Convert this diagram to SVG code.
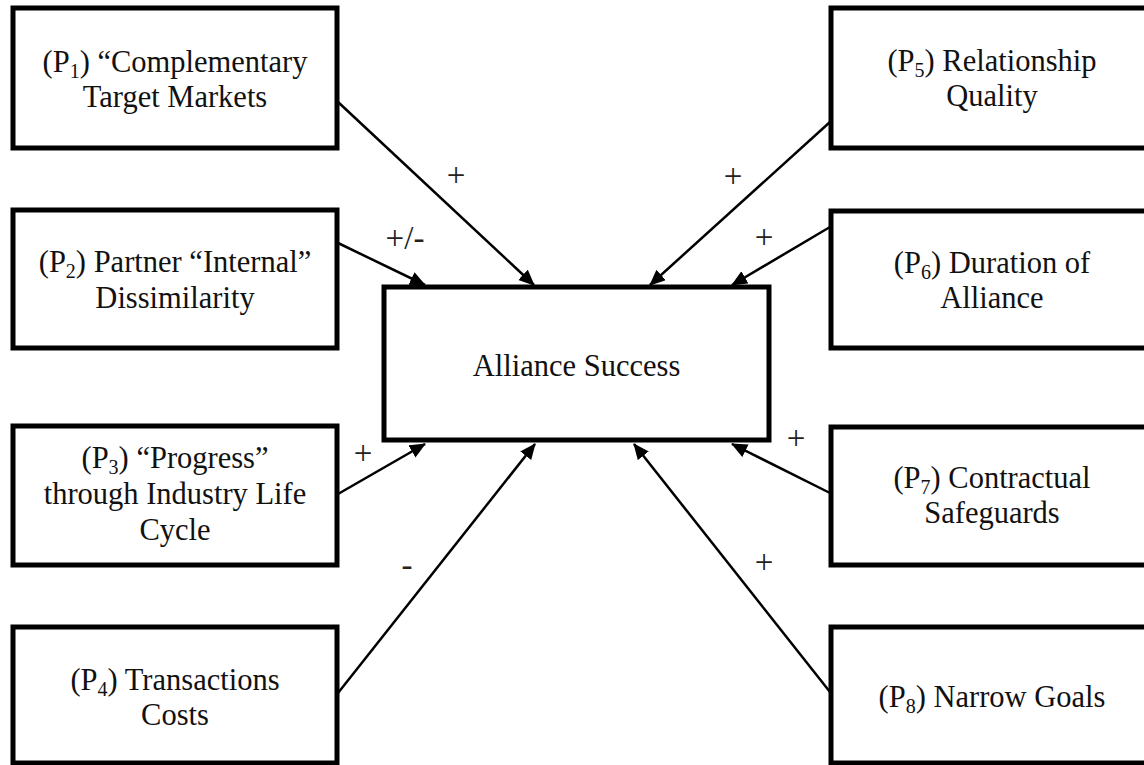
<svg xmlns="http://www.w3.org/2000/svg" width="1144" height="765" viewBox="0 0 1144 765">
<style>
.box{fill:#fff;stroke:#000;stroke-width:5}
.t{font-family:"Liberation Serif","Times New Roman",serif;font-size:30.5px;fill:#111;text-anchor:middle}
.s{font-size:20px}
.lbl{font-family:"Liberation Serif","Times New Roman",serif;font-size:33px;fill:#222;text-anchor:middle}
.c{stroke:#000;stroke-width:2.5;fill:none;marker-end:url(#ah)}
</style>
<defs>
<marker id="ah" markerUnits="userSpaceOnUse" markerWidth="18" markerHeight="16" refX="15" refY="7" orient="auto">
<path d="M0,0 L16,7 L0,14 z" fill="#000"/>
</marker>
</defs>
<rect width="1144" height="765" fill="#fff"/>
<g id="connectors">
<line class="c" x1="338" y1="102" x2="534" y2="285"/>
<line class="c" x1="338" y1="243" x2="425" y2="285"/>
<line class="c" x1="338" y1="494" x2="425" y2="444"/>
<line class="c" x1="338" y1="693" x2="535" y2="444"/>
<line class="c" x1="830" y1="122" x2="650" y2="285"/>
<line class="c" x1="830" y1="227" x2="732" y2="285"/>
<line class="c" x1="830" y1="493" x2="732" y2="444"/>
<line class="c" x1="830" y1="692" x2="634" y2="444"/>
</g>
<g id="labels">
<text class="lbl" x="456" y="186">+</text>
<text class="lbl" x="405" y="249">+/-</text>
<text class="lbl" x="733" y="187">+</text>
<text class="lbl" x="764" y="248">+</text>
<text class="lbl" x="363" y="464">+</text>
<text class="lbl" x="407" y="576">-</text>
<text class="lbl" x="796" y="449">+</text>
<text class="lbl" x="764" y="573">+</text>
</g>
<g id="center">
<rect class="box" x="384" y="287" width="385" height="153"/>
<text class="t" x="576.5" y="376">Alliance Success</text>
</g>
<g id="p1">
<rect class="box" x="13" y="8" width="324" height="140"/>
<text class="t" x="175" y="72">(P<tspan class="s" dy="6">1</tspan><tspan dy="-6">) “Complementary</tspan></text>
<text class="t" x="175" y="107">Target Markets</text>
</g>
<g id="p2">
<rect class="box" x="13" y="210" width="324" height="138"/>
<text class="t" x="175" y="272">(P<tspan class="s" dy="6">2</tspan><tspan dy="-6">) Partner “Internal”</tspan></text>
<text class="t" x="175" y="308">Dissimilarity</text>
</g>
<g id="p3">
<rect class="box" x="13" y="426" width="324" height="139"/>
<text class="t" x="175" y="468">(P<tspan class="s" dy="6">3</tspan><tspan dy="-6">) “Progress”</tspan></text>
<text class="t" x="175" y="504">through Industry Life</text>
<text class="t" x="175" y="540">Cycle</text>
</g>
<g id="p4">
<rect class="box" x="13" y="627" width="324" height="136"/>
<text class="t" x="175" y="690">(P<tspan class="s" dy="6">4</tspan><tspan dy="-6">) Transactions</tspan></text>
<text class="t" x="175" y="725">Costs</text>
</g>
<g id="p5">
<rect class="box" x="831" y="8" width="330" height="140"/>
<text class="t" x="992" y="71">(P<tspan class="s" dy="6">5</tspan><tspan dy="-6">) Relationship</tspan></text>
<text class="t" x="992" y="106">Quality</text>
</g>
<g id="p6">
<rect class="box" x="831" y="211" width="330" height="137"/>
<text class="t" x="992" y="273">(P<tspan class="s" dy="6">6</tspan><tspan dy="-6">) Duration of</tspan></text>
<text class="t" x="992" y="308">Alliance</text>
</g>
<g id="p7">
<rect class="box" x="831" y="427" width="330" height="138"/>
<text class="t" x="992" y="488">(P<tspan class="s" dy="6">7</tspan><tspan dy="-6">) Contractual</tspan></text>
<text class="t" x="992" y="523">Safeguards</text>
</g>
<g id="p8">
<rect class="box" x="831" y="627" width="330" height="136"/>
<text class="t" x="992" y="707">(P<tspan class="s" dy="6">8</tspan><tspan dy="-6">) Narrow Goals</tspan></text>
</g>
</svg>
